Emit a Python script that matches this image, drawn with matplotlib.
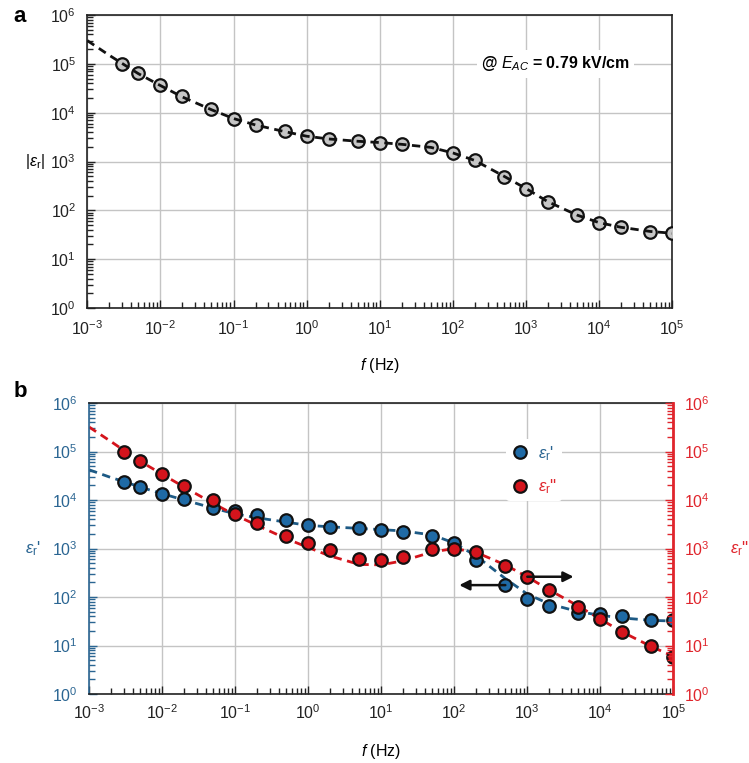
import matplotlib
matplotlib.use('Agg')
import matplotlib.pyplot as plt
from matplotlib.lines import Line2D
import numpy as np

plt.rcParams['font.family'] = ['Liberation Sans', 'DejaVu Sans']
plt.rcParams['mathtext.fontset'] = 'custom'
plt.rcParams['mathtext.it'] = 'Liberation Sans:italic'
plt.rcParams['mathtext.rm'] = 'Liberation Sans'
plt.rcParams['mathtext.bf'] = 'Liberation Sans:bold'

# measured frequencies (Hz)
freq = [3e-3, 5e-3, 1e-2, 2e-2, 5e-2, 0.1, 0.2, 0.5, 1, 2, 5, 10, 20, 50,
        100, 200, 500, 1e3, 2e3, 5e3, 1e4, 2e4, 5e4, 1e5]

# panel a: |eps_r|
eps_abs = [1.0e5, 6.5e4, 3.7e4, 2.2e4, 1.2e4, 7.5e3, 5.7e3, 4.2e3, 3.3e3, 2.9e3,
           2.6e3, 2.45e3, 2.3e3, 2.0e3, 1.5e3, 1.05e3, 490, 280, 150, 80,
           56, 45, 36, 35]

# panel b: real and imaginary parts
eps_re = [2.3e4, 1.85e4, 1.35e4, 1.05e4, 6.7e3, 5.8e3, 4.8e3, 3.8e3, 3.1e3, 2.8e3,
          2.6e3, 2.45e3, 2.2e3, 1.85e3, 1.27e3, 590, 176, 89, 65, 46,
          44, 40, 34, 34]
eps_im = [1.0e5, 6.5e4, 3.5e4, 1.95e4, 9.8e3, 5.1e3, 3.4e3, 1.85e3, 1.3e3, 950,
          620, 575, 670, 990, 1.0e3, 840, 434, 262, 137, 62,
          35, 19, 9.8, 5.9]

# fitted curves
fit_f = [1e-3, 2e-3, 3e-3, 5e-3, 1e-2, 2e-2, 5e-2, 0.1, 0.2, 0.5, 1, 2, 5, 10,
         20, 50, 100, 200, 500, 1e3, 2e3, 5e3, 1e4, 2e4, 5e4, 1e5]
fit_abs = [3.0e5, 1.5e5, 1.02e5, 6.3e4, 3.6e4, 2.1e4, 1.15e4, 7.6e3, 5.6e3, 4.1e3,
           3.3e3, 2.9e3, 2.6e3, 2.45e3, 2.25e3, 1.95e3, 1.5e3, 1.05e3, 500, 280,
           150, 80, 56, 45, 37, 34]
fit_re = [4.2e4, 2.9e4, 2.4e4, 1.85e4, 1.35e4, 1.0e4, 6.8e3, 5.2e3, 4.3e3, 3.5e3,
          3.0e3, 2.8e3, 2.6e3, 2.45e3, 2.3e3, 1.9e3, 1.3e3, 700, 240, 115,
          72, 50, 42, 37, 33, 32]
fit_im = [3.2e5, 1.6e5, 1.05e5, 6.3e4, 3.4e4, 1.85e4, 8.5e3, 4.9e3, 3.0e3, 1.6e3,
          1.05e3, 700, 470, 460, 560, 850, 1.0e3, 830, 460, 260,
          140, 65, 35, 19, 9.5, 6]

BLUE = '#1f6aa5'
BLUE_TXT = '#2a6592'
RED = '#d4141c'
RED_TXT = '#e0252c'
GRID = '#c4c4c4'

fig = plt.figure(figsize=(7.49, 7.63), dpi=100)


def style_log_axes(ax, ycolor='#222222', xpad=5):
    ax.set_xscale('log')
    ax.set_yscale('log')
    ax.set_xlim(1e-3, 1e5)
    ax.set_ylim(1, 1e6)
    ax.set_xticks([10.0 ** k for k in range(-3, 6)])
    ax.set_yticks([10.0 ** k for k in range(0, 7)])
    ax.grid(True, which='major', color=GRID, lw=1.0)
    ax.tick_params(axis='x', which='both', direction='in', top=False,
                   labelsize=11.5, colors='#222222', pad=xpad)
    ax.tick_params(axis='x', which='major', length=6, width=1)
    ax.tick_params(axis='x', which='minor', length=4, width=1)
    ax.tick_params(axis='y', which='both', direction='in', right=False,
                   labelsize=11.5, colors=ycolor, pad=8)
    ax.tick_params(axis='y', which='major', length=6, width=1)
    ax.tick_params(axis='y', which='minor', length=4, width=1)
    for s in ax.spines.values():
        s.set_linewidth(1.2)
        s.set_color('#222222')


MS = 9

# ---------------- panel a ----------------
ax1 = fig.add_axes([0.1165, 0.5963, 0.781, 0.384])
style_log_axes(ax1, xpad=8)
ax1.plot(fit_f, fit_abs, '--', color='#111111', lw=2.0, dashes=(3, 2), zorder=4)
ax1.plot(freq, eps_abs, 'o', ms=MS, mfc='#c6c6c6', mec='#111111', mew=1.6,
         zorder=3)
ax1.set_ylabel(r'$|\varepsilon_\mathrm{r}|$', fontsize=11.5, rotation=0,
               labelpad=11, va='center')
ax1.set_xlabel(r'$f$ (Hz)', fontsize=11.5, labelpad=13)
ax1.text(10 ** 3.40, 1e5, r'@ $\boldsymbol{E_{AC}}$ = 0.79 kV/cm', fontsize=11.5,
         fontweight='bold', ha='center', va='center',
         bbox=dict(facecolor='white', edgecolor='none', pad=3), zorder=5)
fig.text(0.018, 0.978, 'a', fontsize=16, fontweight='bold', va='center')

# ---------------- panel b ----------------
ax2 = fig.add_axes([0.119, 0.0904, 0.780, 0.3814])
style_log_axes(ax2, ycolor=BLUE_TXT, xpad=7)
ax2.spines['left'].set_color(BLUE_TXT)
ax2.tick_params(axis='y', which='both', color=BLUE_TXT)

ax3 = ax2.twinx()
ax3.set_yscale('log')
ax3.set_ylim(1, 1e6)
ax3.set_yticks([10.0 ** k for k in range(0, 7)])
ax3.tick_params(axis='y', which='both', direction='in', labelsize=11.5,
                colors=RED_TXT, pad=8)
ax3.tick_params(axis='y', which='major', length=6, width=1)
ax3.tick_params(axis='y', which='minor', length=4, width=1)
for name, s in ax3.spines.items():
    s.set_visible(name == 'right')
ax3.spines['right'].set_color(RED_TXT)
ax3.spines['right'].set_linewidth(2.0)
ax2.spines['right'].set_visible(False)

ax2.plot(fit_f, fit_re, '--', color='#1d5a85', lw=2.0, dashes=(3, 2), zorder=2)
ax2.plot(fit_f, fit_im, '--', color=RED, lw=2.0, dashes=(3, 2), zorder=2)
ax2.plot(freq, eps_re, 'o', ms=MS, mfc=BLUE, mec='#111111', mew=1.6, zorder=3)
ax2.plot(freq, eps_im, 'o', ms=MS, mfc=RED, mec='#111111', mew=1.6, zorder=3)

# arrows pointing to the relevant axes
ax2.annotate('', xy=(117, 176), xytext=(500, 176),
             arrowprops=dict(arrowstyle='-|>', color='#111111', lw=1.8,
                             mutation_scale=15, shrinkA=0, shrinkB=0), zorder=5)
ax2.annotate('', xy=(4.3e3, 262), xytext=(1e3, 262),
             arrowprops=dict(arrowstyle='-|>', color='#111111', lw=1.8,
                             mutation_scale=15, shrinkA=0, shrinkB=0), zorder=5)

handles = [Line2D([], [], ls='none', marker='o', ms=MS, mfc=BLUE, mec='#111111', mew=1.6),
           Line2D([], [], ls='none', marker='o', ms=MS, mfc=RED, mec='#111111', mew=1.6)]
leg = ax2.legend(handles, [r"$\varepsilon_\mathrm{r}$'", r"$\varepsilon_\mathrm{r}$''"],
                 loc='upper left', bbox_to_anchor=(0.70, 0.905), frameon=True,
                 facecolor='white', edgecolor='none', framealpha=1,
                 fontsize=12, handletextpad=0.6, labelspacing=0.9,
                 borderpad=0.3, handlelength=1.0)
for t, c in zip(leg.get_texts(), [BLUE_TXT, RED_TXT]):
    t.set_color(c)

ax2.set_ylabel(r"$\varepsilon_\mathrm{r}$'", fontsize=12, rotation=0,
               color=BLUE_TXT, labelpad=14, va='center')
ax3.set_ylabel(r"$\varepsilon_\mathrm{r}$''", fontsize=12, rotation=0,
               color=RED_TXT, labelpad=21, va='center')
ax2.set_xlabel(r'$f$ (Hz)', fontsize=11.5, labelpad=14)
fig.text(0.018, 0.487, 'b', fontsize=16, fontweight='bold', va='center')

fig.savefig('out.png', dpi=100)
